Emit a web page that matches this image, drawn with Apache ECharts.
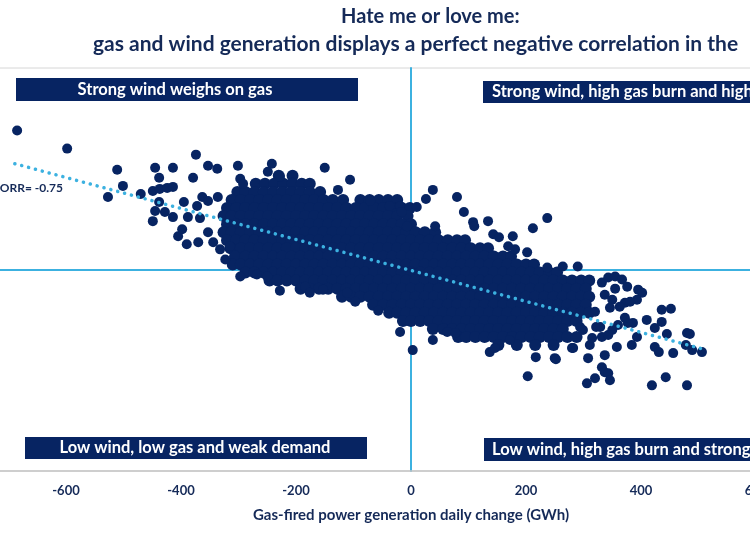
<!DOCTYPE html>
<html><head><meta charset="utf-8">
<script src="https://cdn.jsdelivr.net/npm/echarts@6/dist/echarts.min.js"></script>
<style>html,body{margin:0;padding:0;background:#fff}#chart{width:750px;height:536px}</style>
</head><body><div id="chart"></div>
<script>
// Gas-fired power generation daily change (GWh) vs wind generation daily change
const titleLines = ['Hate me or love me:', 'gas and wind generation displays a perfect negative correlation in the'];
const quadrantLabels = ['Strong wind weighs on gas', 'Strong wind, high gas burn and high demand', 'Low wind, low gas and weak demand', 'Low wind, high gas burn and strong demand'];
const corrLabel = 'CORR= -0.75';
const xAxisName = 'Gas-fired power generation daily change (GWh)';

// dense core of the cloud, read row by row: [wind change, [gas changes...]]
const denseRows = [
  [93, [-230,-206]],
  [85, [-270,-254,-238,-222,-206,-190,-176]],
  [77, [-302,-288,-272,-256,-240,-224,-208,-192,-176,-158]],
  [69, [-312,-296,-280,-264,-248,-232,-216,-200,-184,-168,-152,-136,-118,-88,-72,-56,-40,-24]],
  [61, [-320,-304,-288,-272,-256,-240,-224,-208,-192,-176,-160,-144,-128,-112,-96,-80,-64,-48,-32,-16,-2]],
  [53, [-326,-312,-296,-280,-264,-248,-232,-216,-200,-184,-168,-152,-136,-120,-104,-88,-72,-56,-40,-24,-6]],
  [45, [-320,-304,-288,-272,-256,-240,-224,-208,-192,-176,-160,-144,-128,-112,-96,-80,-64,-48,-32,-16,0]],
  [37, [-326,-312,-296,-280,-264,-248,-232,-216,-200,-184,-168,-152,-136,-120,-104,-88,-72,-56,-40,-24,-8,8,24,42]],
  [29, [-320,-304,-288,-272,-256,-240,-224,-208,-192,-176,-160,-144,-128,-112,-96,-80,-64,-48,-32,-16,0,16,32,48,64,80,94]],
  [21, [-314,-296,-280,-264,-248,-232,-216,-200,-184,-168,-152,-136,-120,-104,-88,-72,-56,-40,-24,-8,8,24,40,56,72,88,104,120,134]],
  [13, [-306,-288,-272,-256,-240,-224,-208,-192,-176,-160,-144,-128,-112,-96,-80,-64,-48,-32,-16,0,16,32,48,64,80,96,112,128,144,160,174]],
  [5, [-310,-296,-280,-264,-248,-232,-216,-200,-184,-168,-152,-136,-120,-104,-88,-72,-56,-40,-24,-8,8,24,40,56,72,88,104,120,136,152,168,184,200,214]],
  [-3, [-288,-272,-256,-240,-224,-208,-192,-176,-160,-144,-128,-112,-96,-80,-64,-48,-32,-16,0,16,32,48,64,80,96,112,128,144,160,176,192,208,224,240,254]],
  [-11, [-246,-232,-216,-200,-184,-168,-152,-136,-120,-104,-88,-72,-56,-40,-24,-8,8,24,40,56,72,88,104,120,136,152,168,184,200,216,232,248,264,280,296,310]],
  [-19, [-192,-176,-160,-144,-128,-112,-96,-80,-64,-48,-32,-16,0,16,32,48,64,80,96,112,128,144,160,176,192,208,224,240,256,272,288,304]],
  [-27, [-120,-104,-88,-72,-56,-40,-24,-8,8,24,40,56,72,88,104,120,136,152,168,184,200,216,232,248,264,280,296,310]],
  [-35, [-66,-48,-32,-16,0,16,32,48,64,80,96,112,128,144,160,176,192,208,224,240,256,272,288,304]],
  [-43, [-38,-24,-8,8,24,40,56,72,88,104,120,136,152,168,184,200,216,232,248,264,280,296,310]],
  [-51, [-14,0,16,32,48,64,80,96,112,128,144,160,176,192,208,224,240,256,272,288]],
  [-59, [38,56,72,88,104,120,136,152,168,184,200,216,232,248,264]],
  [-67, [82,96,112,128,144,160,176,192,208,224,240,256,272,288]],
  [-75, [152,184,216,248]]
];

// scattered days around the core: [gas change, wind change]
const outlierDays = [
  [-685,138],[-598,120],[-511,99],[-501,83],[-527,72],[-445,101],[-414,101],[-438,91],[-374,114],[-353,103],
  [-337,100],[-301,103],[-242,105],[-249,97],[-150,101],[-106,89],[-470,75],[-449,48],[-445,58],[-428,57],
  [-414,52],[-438,67],[-449,78],[-437,80],[-424,81],[-414,82],[-379,91],[-395,67],[-372,63],[-363,72],
  [-353,68],[-336,72],[-367,51],[-388,52],[-405,33],[-398,40],[-390,25],[-370,27],[-353,37],[-344,27],
  [-332,20],[-315,23],[-323,10],[-297,90],[-292,85],[-228,92],
  [-127,79],[-71,68],[-37,63],[-19,63],[38,79],[26,70],[10,62],[-16,57],[-7,43],[80,72],
  [92,57],[108,47],[110,43],[134,48],[237,51],[212,41],[143,35],[153,32],[177,33],[169,23],
  [181,20],[202,17],[42,43],[237,2],[264,3],[290,3],
  [332,-13],[343,-8],[355,-7],[367,-10],[355,-19],[376,-17],[395,-20],[402,-23],[393,-30],[372,-33],
  [381,-32],[363,-37],[337,-25],[350,-30],[346,-38],[320,-42],[436,-40],[452,-39],[410,-50],[436,-52],
  [424,-58],[445,-64],[480,-63],[485,-64],[478,-75],[489,-80],[506,-82],[456,-83],[424,-77],[431,-82],
  [386,-53],[377,-53],[372,-48],[360,-55],[350,-60],[393,-67],[384,-75],[358,-77],[337,-85],[311,-75],
  [315,-68],[332,-67],[343,-65],[308,-88],[250,-88],[282,-78],[332,-97],[337,-102],[343,-103],[320,-108],
  [346,-110],[306,-113],[419,-115],[443,-107],[480,-115],[322,-57],[329,-57],[294,-57],[299,-60],
  [3,-80],[38,-70],[63,-62],[77,-63],[137,-82],[146,-78],[172,-70],[203,-106],[217,-87],[252,-89],[280,-78],
  [-297,-7],[-268,-5],[-250,-7],[-228,-21],[-184,-17],[-176,-23],[-153,-20],[-111,-23],[-97,-32],[-57,-41],[-19,-62]
];

// linear trend line end points [gas, wind]
const trendLine = [[-689,105],[508,-79]];

const coreData = denseRows.flatMap(([w, gs]) => gs.map(g => [g, w]));

const NAVY = '#072462';
const CYAN = '#3cb1e0';
const TXT = '#152a58';
const FONT = 'Lato, "Open Sans", sans-serif';

const chart = echarts.init(document.getElementById('chart'), null, {renderer: 'canvas'});
chart.setOption({
  animation: false,
  backgroundColor: '#ffffff',
  grid: {left: -49, top: 68, width: 920, height: 403, containLabel: false, outerBoundsMode: 'none',
         show: true, borderColor: '#d6d6d6', borderWidth: 1},
  xAxis: {
    type: 'value', min: -800, max: 800, interval: 200,
    axisLine: {onZero: false, lineStyle: {color: '#c4c4c4', width: 1.5}},
    axisTick: {show: false},
    splitLine: {show: false},
    axisLabel: {color: TXT, fontFamily: FONT, fontWeight: 'bold', fontSize: 13, margin: 13},
    name: xAxisName, nameLocation: 'middle', nameGap: 37,
    nameTextStyle: {color: TXT, fontFamily: FONT, fontWeight: 'bold', fontSize: 15}
  },
  yAxis: {
    type: 'value', min: -200, max: 200, interval: 200,
    axisLine: {onZero: true, lineStyle: {color: CYAN, width: 2}},
    axisTick: {show: false},
    axisLabel: {show: false},
    splitLine: {show: true, lineStyle: {color: ['rgba(0,0,0,0)', CYAN, 'rgba(0,0,0,0)'], width: 2}}
  },
  series: [
    {
      type: 'scatter', data: coreData, symbol: 'circle', symbolSize: 12,
      itemStyle: {color: NAVY, opacity: 1}, z: 2, silent: true
    },
    {
      type: 'scatter', data: outlierDays, symbol: 'circle', symbolSize: 10,
      itemStyle: {color: NAVY, opacity: 1}, z: 2, silent: true
    },
    {
      type: 'line', data: trendLine, symbol: 'none', z: 4, silent: true,
      lineStyle: {color: CYAN, width: 3.5, type: [0.1, 7], cap: 'round'}
    }
  ],
  graphic: [
    {type: 'text', x: 341, y: 17, style: {text: titleLines[0], font: 'bold 20px ' + FONT, fill: TXT, verticalAlign: 'middle'}},
    {type: 'text', x: 93, y: 44, style: {text: titleLines[1], font: 'bold 21px ' + FONT, fill: TXT, verticalAlign: 'middle'}},
    {type: 'rect', shape: {x: 16, y: 78, width: 342, height: 23}, style: {fill: NAVY}},
    {type: 'text', x: 175, y: 90, style: {text: quadrantLabels[0], font: 'bold 16.5px ' + FONT, fill: '#ffffff', align: 'center', verticalAlign: 'middle'}},
    {type: 'rect', shape: {x: 483, y: 81, width: 300, height: 22}, style: {fill: NAVY}},
    {type: 'text', x: 492, y: 92, style: {text: quadrantLabels[1], font: 'bold 16.5px ' + FONT, fill: '#ffffff', verticalAlign: 'middle'}},
    {type: 'rect', shape: {x: 25, y: 437, width: 342, height: 22}, style: {fill: NAVY}},
    {type: 'text', x: 195, y: 448, style: {text: quadrantLabels[2], font: 'bold 16.5px ' + FONT, fill: '#ffffff', align: 'center', verticalAlign: 'middle'}},
    {type: 'rect', shape: {x: 484, y: 438, width: 300, height: 23}, style: {fill: NAVY}},
    {type: 'text', x: 492, y: 450, style: {text: quadrantLabels[3], font: 'bold 16.5px ' + FONT, fill: '#ffffff', verticalAlign: 'middle'}},
    {type: 'text', x: -8, y: 188, style: {text: corrLabel, font: 'bold 12px ' + FONT, fill: TXT, verticalAlign: 'middle'}}
  ]
});
</script></body></html>
